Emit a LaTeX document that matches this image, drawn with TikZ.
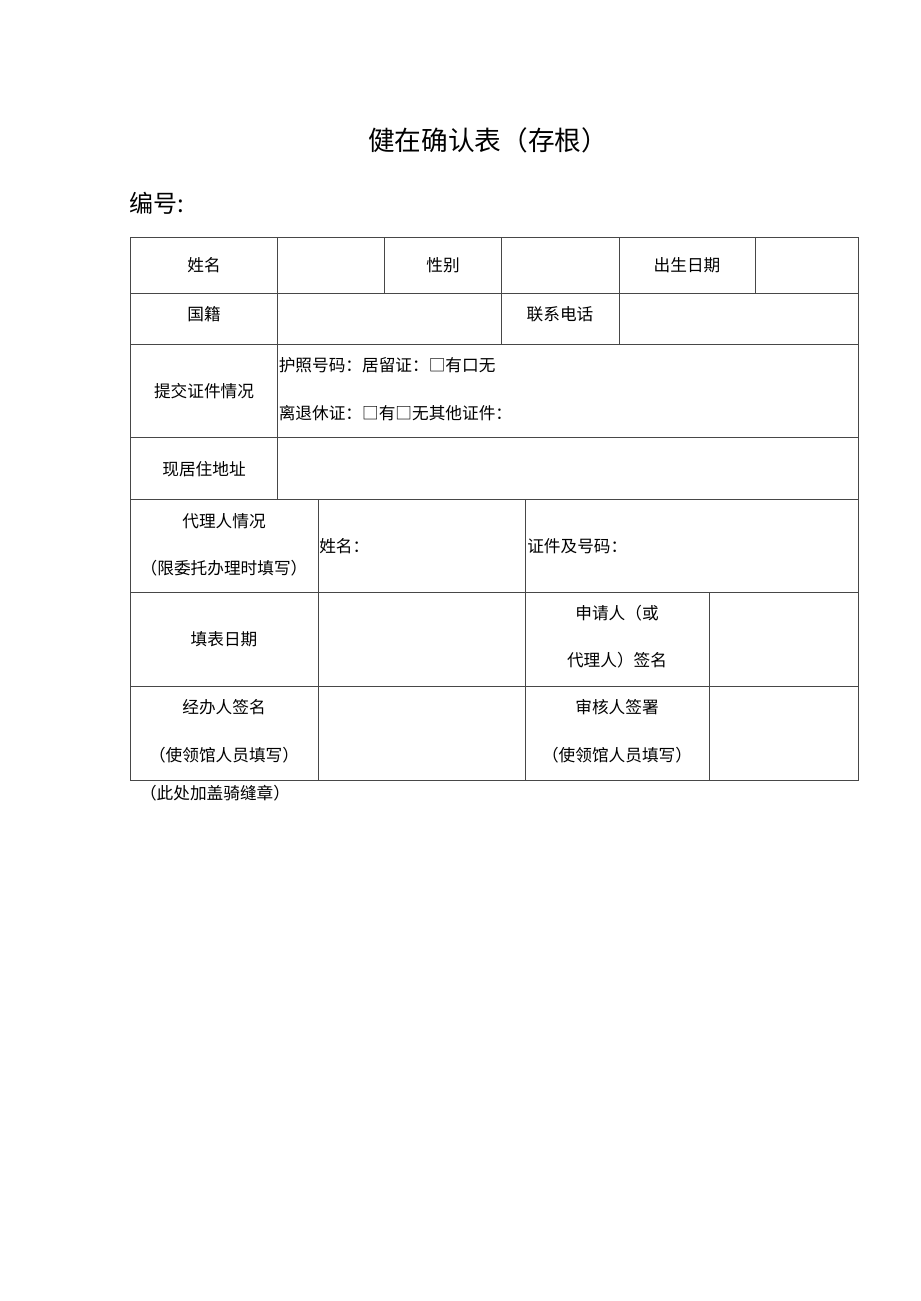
\documentclass[tikz,border=0pt]{standalone}
\usepackage{fontspec}
\newfontfamily\cjk{Noto Sans CJK SC}
\begin{document}
\begin{tikzpicture}[x=0.75pt,y=-0.75pt,
  grid/.style={draw=black!72,line width=0.65pt},
  cell/.style={inner sep=0pt,font=\cjk\fontsize{12.5}{14}\selectfont},
  lcell/.style={cell,anchor=west}]
\useasboundingbox[fill=white] (0,0) rectangle (920,1301);
% title
\node[inner sep=0pt,font=\cjk\fontsize{20}{22}\selectfont] (title) at (488,140) {健在确认表（存根）};
\node[inner sep=0pt,anchor=west,font=\cjk\fontsize{18}{20}\selectfont] (num) at (129,203) {编号:};
% table frame
\draw[grid] (130,237.5) rectangle (858,780);
% horizontal lines
\draw[grid] (130,293) -- (858,293);
\draw[grid] (130,344) -- (858,344);
\draw[grid] (130,437.5) -- (858,437.5);
\draw[grid] (130,499) -- (858,499);
\draw[grid] (130,592) -- (858,592);
\draw[grid] (130,686) -- (858,686);
% vertical lines
\draw[grid] (277.7,237.5) -- (277.7,499);
\draw[grid] (384,237.5) -- (384,293);
\draw[grid] (501.7,237.5) -- (501.7,344);
\draw[grid] (619,237.5) -- (619,344);
\draw[grid] (755.7,237.5) -- (755.7,293);
\draw[grid] (318.3,499) -- (318.3,780);
\draw[grid] (525.7,499) -- (525.7,780);
\draw[grid] (709,592) -- (709,780);
% row 1
\node[cell] (xm) at (204,265) {姓名};
\node[cell] (xb) at (443,265) {性别};
\node[cell] (cs) at (687,265) {出生日期};
% row 2
\node[cell] (gj) at (204,314) {国籍};
\node[cell] (lx) at (560,314) {联系电话};
% row 3
\node[cell] (tj) at (204,391) {提交证件情况};
\node[lcell] (hz) at (278.5,365) {护照号码：居留证：□有口无};
\node[lcell] (lt) at (278.5,413) {离退休证：□有□无其他证件：};
% row 4
\node[cell] (xj) at (204,469) {现居住地址};
% row 5
\node[cell] (dl1) at (224,521) {代理人情况};
\node[cell] (dl2) at (224,568) {（限委托办理时填写）};
\node[lcell] (dxm) at (319,546) {姓名：};
\node[lcell] (zj) at (527,546) {证件及号码：};
% row 6
\node[cell] (tb) at (224,639) {填表日期};
\node[cell] (sq1) at (617,613) {申请人（或};
\node[cell] (sq2) at (617,660) {代理人）签名};
% row 7
\node[cell] (jb1) at (224,707) {经办人签名};
\node[cell] (jb2) at (224,755) {（使领馆人员填写）};
\node[cell] (sh1) at (617,707) {审核人签署};
\node[cell] (sh2) at (617,755) {（使领馆人员填写）};
% note
\node[cell] (note) at (215,793) {（此处加盖骑缝章）};
\end{tikzpicture}
\end{document}
